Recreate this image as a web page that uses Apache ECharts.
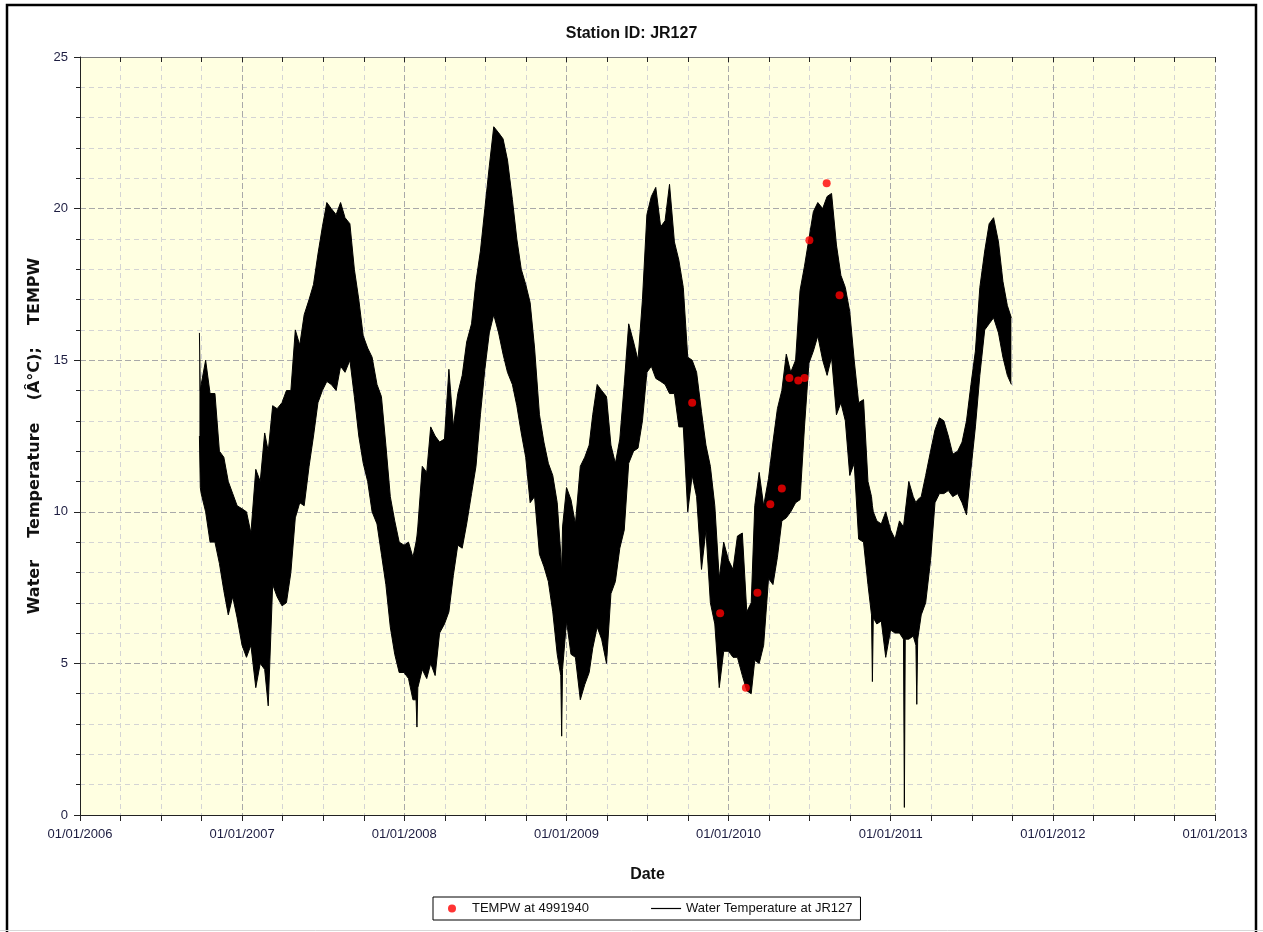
<!DOCTYPE html>
<html>
<head>
<meta charset="utf-8">
<title>Station ID: JR127</title>
<script src="https://cdn.jsdelivr.net/npm/echarts@6/dist/echarts.min.js"></script>
<style>
  html, body { margin: 0; padding: 0; background: #fff; }
  #chart { width: 1263px; height: 932px; }
</style>
</head>
<body>
<div id="chart"></div>
<script>
// logger JR127: upper / lower edge of the trace, read about every 10 days (extra points at the spikes)
const logDates = [
  '2006-09-27', '2006-09-29', '2006-10-01', '2006-10-11', '2006-10-21', '2006-11-01', '2006-11-11', '2006-11-21', '2006-12-01', '2006-12-11', '2006-12-21',
  '2007-01-01', '2007-01-11', '2007-01-21', '2007-02-01', '2007-02-11', '2007-02-21', '2007-03-01', '2007-03-11', '2007-03-21', '2007-04-01', '2007-04-11', '2007-04-21',
  '2007-05-01', '2007-05-11', '2007-05-21', '2007-06-01', '2007-06-11', '2007-06-21', '2007-07-01', '2007-07-11', '2007-07-21', '2007-08-01', '2007-08-11', '2007-08-21',
  '2007-09-01', '2007-09-11', '2007-09-21', '2007-10-01', '2007-10-11', '2007-10-21', '2007-11-01', '2007-11-11', '2007-11-21', '2007-12-01', '2007-12-11', '2007-12-21',
  '2008-01-01', '2008-01-11', '2008-01-21', '2008-01-28', '2008-01-30', '2008-02-01', '2008-02-11', '2008-02-21', '2008-03-01', '2008-03-11', '2008-03-21', '2008-04-01', '2008-04-11', '2008-04-21',
  '2008-05-01', '2008-05-11', '2008-05-21', '2008-06-01', '2008-06-11', '2008-06-21', '2008-07-01', '2008-07-11', '2008-07-21', '2008-08-01', '2008-08-11', '2008-08-21',
  '2008-09-01', '2008-09-11', '2008-09-21', '2008-10-01', '2008-10-11', '2008-10-21', '2008-11-01', '2008-11-11', '2008-11-21', '2008-12-01', '2008-12-11', '2008-12-19', '2008-12-21', '2008-12-23',
  '2009-01-01', '2009-01-11', '2009-01-21', '2009-02-01', '2009-02-11', '2009-02-21', '2009-03-01', '2009-03-11', '2009-03-21', '2009-04-01', '2009-04-11', '2009-04-21',
  '2009-05-01', '2009-05-11', '2009-05-21', '2009-06-01', '2009-06-11', '2009-06-21', '2009-07-01', '2009-07-11', '2009-07-21', '2009-08-01', '2009-08-11', '2009-08-21',
  '2009-09-01', '2009-09-11', '2009-09-21', '2009-10-01', '2009-10-11', '2009-10-21', '2009-11-01', '2009-11-11', '2009-11-21', '2009-12-01', '2009-12-11', '2009-12-21',
  '2010-01-01', '2010-01-11', '2010-01-21', '2010-02-01', '2010-02-11', '2010-02-21', '2010-03-01', '2010-03-11', '2010-03-21', '2010-04-01', '2010-04-11', '2010-04-21',
  '2010-05-01', '2010-05-11', '2010-05-21', '2010-06-01', '2010-06-11', '2010-06-21', '2010-07-01', '2010-07-11', '2010-07-21', '2010-08-01', '2010-08-11', '2010-08-21',
  '2010-09-01', '2010-09-11', '2010-09-21', '2010-10-01', '2010-10-11', '2010-10-21', '2010-11-01', '2010-11-11', '2010-11-19', '2010-11-21', '2010-11-23', '2010-12-01', '2010-12-11', '2010-12-21',
  '2011-01-01', '2011-01-11', '2011-01-21', '2011-01-30', '2011-02-01', '2011-02-03', '2011-02-11', '2011-02-21', '2011-02-27', '2011-03-01', '2011-03-03', '2011-03-11', '2011-03-21',
  '2011-04-01', '2011-04-11', '2011-04-21', '2011-05-01', '2011-05-11', '2011-05-21', '2011-06-01', '2011-06-11', '2011-06-21', '2011-07-01', '2011-07-11', '2011-07-21',
  '2011-08-01', '2011-08-11', '2011-08-21', '2011-09-01', '2011-09-11', '2011-09-21', '2011-09-30'
]
const logHigh = [
  15.9, 14.0, 14.2, 15.0, 13.9, 13.9, 12.0, 11.8, 11.0, 10.6, 10.2,
  10.1, 10.0, 9.3, 11.4, 11.0, 12.6, 12.0, 13.5, 13.4, 13.6, 14.0, 14.0,
  16.0, 15.5, 16.5, 17.0, 17.5, 18.5, 19.4, 20.2, 20.0, 19.8, 20.2, 19.7,
  19.5, 18.0, 17.0, 15.8, 15.4, 15.1, 14.2, 13.8, 12.2, 10.5, 9.7, 9.0,
  8.9, 9.0, 8.5, 9.0, 9.2, 9.5, 11.5, 11.3, 12.8, 12.5, 12.3, 12.4, 14.7, 12.8,
  13.9, 14.5, 15.6, 16.2, 17.6, 18.6, 20.0, 21.4, 22.7, 22.5, 22.3, 21.6,
  20.3, 19.0, 18.0, 17.5, 16.9, 15.4, 13.2, 12.3, 11.6, 11.2, 10.3, 8.6, 8.0, 9.5,
  10.8, 10.4, 9.6, 11.5, 11.8, 12.2, 13.2, 14.2, 14.0, 13.8, 12.2, 11.6,
  12.4, 14.2, 16.2, 15.6, 15.0, 17.0, 19.8, 20.4, 20.7, 19.4, 19.6, 20.8,
  18.9, 18.3, 17.4, 15.1, 15.0, 14.6, 13.3, 12.2, 11.5, 10.2, 7.8, 9.0,
  8.4, 8.1, 9.2, 9.3, 6.7, 7.0, 10.2, 11.3, 10.2, 11.1, 12.3, 13.4,
  14.0, 15.2, 14.6, 15.0, 17.3, 18.1, 19.0, 19.9, 20.2, 20.0, 20.4, 20.5,
  18.8, 17.8, 17.4, 16.6, 15.0, 13.6, 13.7, 11.0, 10.5, 10.2, 10.0, 9.7, 9.6, 10.0,
  9.4, 9.1, 9.7, 9.5, 9.5, 10.0, 11.0, 10.5, 10.3, 10.3, 10.4, 10.5, 11.2,
  12.0, 12.7, 13.1, 13.0, 12.5, 11.9, 12.0, 12.3, 13.0, 14.2, 15.3, 17.4,
  18.6, 19.5, 19.7, 18.9, 17.6, 16.8, 16.4
]
const logLow = [
  12.5, 10.8, 10.6, 10.0, 9.0, 9.0, 8.3, 7.4, 6.6, 7.2, 6.5,
  5.6, 5.2, 5.6, 4.2, 5.0, 4.8, 3.6, 7.6, 7.2, 6.9, 7.0, 8.0,
  9.8, 10.3, 10.2, 11.5, 12.5, 13.6, 14.0, 14.3, 14.2, 14.0, 14.8, 14.6,
  15.0, 13.8, 12.5, 11.6, 11.0, 10.0, 9.6, 8.6, 7.6, 6.2, 5.3, 4.7,
  4.7, 4.5, 3.8, 3.8, 2.9, 4.2, 4.8, 4.5, 5.0, 4.6, 6.0, 6.3, 6.7, 7.9,
  8.9, 8.8, 9.6, 10.6, 11.5, 13.2, 14.7, 15.9, 16.5, 15.9, 15.2, 14.6,
  14.2, 13.5, 12.6, 11.8, 10.3, 10.5, 8.6, 8.2, 7.7, 6.7, 5.3, 4.6, 2.6, 4.8,
  6.4, 5.3, 5.2, 3.8, 4.3, 4.7, 5.5, 6.2, 5.8, 5.0, 7.3, 7.7,
  8.8, 9.4, 11.6, 12.0, 12.1, 13.0, 14.6, 14.8, 14.4, 14.3, 14.2, 13.9,
  13.9, 12.8, 12.8, 10.0, 11.2, 10.5, 8.1, 9.4, 7.0, 6.3, 4.2, 5.4,
  5.4, 5.2, 5.2, 4.6, 4.1, 4.0, 5.1, 5.0, 5.6, 7.8, 7.6, 8.5,
  9.7, 9.8, 10.0, 10.3, 10.4, 12.8, 14.9, 15.3, 15.8, 15.0, 14.5, 15.1,
  13.2, 13.6, 13.0, 11.2, 11.6, 9.1, 9.0, 7.6, 6.6, 4.4, 6.5, 6.3, 6.4, 5.2,
  6.1, 6.0, 6.0, 5.8, 0.25, 5.8, 5.8, 5.9, 5.6, 3.65, 5.8, 6.6, 7.0,
  8.4, 10.3, 10.6, 10.6, 10.7, 10.5, 10.6, 10.3, 9.9, 11.4, 12.8, 14.5,
  16.0, 16.2, 16.4, 15.9, 15.1, 14.5, 14.2
]

// grab samples TEMPW at 4991940
const sampleDates = [
  '2009-10-11', '2009-12-13', '2010-02-09', '2010-03-07', '2010-04-05', '2010-05-01',
  '2010-05-18', '2010-06-07', '2010-06-21', '2010-07-02', '2010-08-10', '2010-09-08'
]
const sampleTemps = [13.6, 6.65, 4.2, 7.33, 10.25, 10.77, 14.41, 14.33, 14.41, 18.96, 20.84, 17.14]

const yearTicks = ['01/01/2006', '01/01/2007', '01/01/2008', '01/01/2009', '01/01/2010', '01/01/2011', '01/01/2012', '01/01/2013']

const labelColor = '#1c1c40'
const font = '"Liberation Sans", Arial, sans-serif'
// x in ms; one tick per (julian) year, 2006-01-01 is exactly 36 of them after the epoch
const YEAR = 365.25 * 24 * 3600 * 1000
const xMin = Date.UTC(2006, 0, 1)
const xMax = xMin + 7 * YEAR

const yearLabel = (value) => yearTicks[new Date(value + 12 * 3600 * 1000).getUTCFullYear() - 2006] || ''

const chart = echarts.init(document.getElementById('chart'))

const option = {
  animation: false,
  backgroundColor: '#fff',
  title: {
    text: 'Station ID: JR127',
    left: 'center',
    top: 21,
    textStyle: { fontFamily: font, fontSize: 16, fontWeight: 'bold', color: '#111' }
  },
  legend: {
    left: 433,
    top: 897,
    padding: [5, 8, 5, 15],
    itemGap: 62,
    itemWidth: 30,
    itemHeight: 8,
    borderColor: '#000',
    borderWidth: 1,
    textStyle: { fontFamily: font, fontSize: 13, color: '#111' },
    data: [
      { name: 'TEMPW at 4991940', icon: 'circle' },
      { name: 'Water Temperature at JR127', icon: 'path://M0,0 L30,0 L30,1.2 L0,1.2 Z' }
    ]
  },
  grid: {
    left: 80,
    right: 48,
    top: 57,
    bottom: 117,
    show: true,
    backgroundColor: '#ffffe1',
    borderWidth: 0
  },
  xAxis: [
    {
      // the data axis (time, so the band can stack); drawn by the axes below
      type: 'time',
      min: xMin,
      max: xMax,
      show: false
    },
    {
      type: 'value',
      min: xMin,
      max: xMax,
      interval: YEAR,
      position: 'bottom',
      name: 'Date',
      nameLocation: 'middle',
      nameGap: 52,
      nameTextStyle: { fontFamily: font, fontSize: 16, fontWeight: 'bold', color: '#111' },
      axisLine: { onZero: false, lineStyle: { color: '#222', width: 1 } },
      axisTick: { show: true, length: 6, lineStyle: { color: '#222' } },
      minorTick: { show: true, splitNumber: 4, length: 6, lineStyle: { color: '#222' } },
      axisLabel: {
        margin: 13,
        fontFamily: font,
        fontSize: 13,
        color: labelColor,
        showMinLabel: true,
        showMaxLabel: true,
        formatter: yearLabel
      },
      splitLine: { show: true, lineStyle: { color: '#a9a9a9', type: [6, 3] } },
      minorSplitLine: { show: true, lineStyle: { color: '#d4d4d4', type: [5, 4] } }
    },
    {
      type: 'value',
      position: 'top',
      min: xMin,
      max: xMax,
      interval: YEAR,
      axisLine: { onZero: false, lineStyle: { color: '#7a7a7a', width: 1 } },
      axisTick: { show: true, inside: true, length: 5, lineStyle: { color: '#222' } },
      minorTick: { show: true, splitNumber: 4, length: 5, lineStyle: { color: '#222' } },
      axisLabel: { show: false },
      splitLine: { show: false }
    }
  ],
  yAxis: {
    type: 'value',
    min: 0,
    max: 25,
    interval: 5,
    name: 'Water    Temperature    (Â°C);    TEMPW',
    nameLocation: 'middle',
    nameGap: 34,
    nameTextStyle: { fontFamily: '"DejaVu Sans", sans-serif', fontSize: 16, fontWeight: 'bold', color: '#111' },
    axisLine: { show: true, lineStyle: { color: '#222', width: 1 } },
    axisTick: { show: true, length: 6, lineStyle: { color: '#222' } },
    minorTick: { show: true, splitNumber: 5, length: 4, lineStyle: { color: '#222' } },
    axisLabel: { margin: 12, fontFamily: font, fontSize: 13, color: labelColor },
    splitLine: { show: true, lineStyle: { color: '#a9a9a9', type: [6, 3] } },
    minorSplitLine: { show: true, lineStyle: { color: '#d4d4d4', type: [5, 4] } }
  },
  series: [
    {
      name: 'JR127 low',
      type: 'line',
      xAxisIndex: 0,
      stack: 'trace',
      symbol: 'none',
      lineStyle: { color: '#000', width: 1 },
      data: logDates.map((d, i) => [Date.parse(d), logLow[i]])
    },
    {
      name: 'Water Temperature at JR127',
      type: 'line',
      xAxisIndex: 0,
      stack: 'trace',
      symbol: 'none',
      color: '#000',
      lineStyle: { color: '#000', width: 1 },
      areaStyle: { color: '#000', opacity: 1 },
      data: logDates.map((d, i) => [Date.parse(d), +(logHigh[i] - logLow[i]).toFixed(2)])
    },
    {
      name: 'TEMPW at 4991940',
      type: 'scatter',
      xAxisIndex: 0,
      symbolSize: 8,
      color: '#ff0000',
      z: 5,
      data: sampleDates.map((d, i) => [Date.parse(d), sampleTemps[i]])
    }
  ],
  graphic: [
    {
      type: 'rect',
      silent: true,
      shape: { x: 7, y: 5, width: 1249, height: 940 },
      style: { fill: 'none', stroke: '#000', lineWidth: 2.5 }
    },
    {
      type: 'line',
      silent: true,
      shape: { x1: 0, y1: 930.5, x2: 1263, y2: 930.5 },
      style: { stroke: '#d8d8d8', lineWidth: 1 }
    }
  ]
}

chart.setOption(option)
</script>
</body>
</html>
